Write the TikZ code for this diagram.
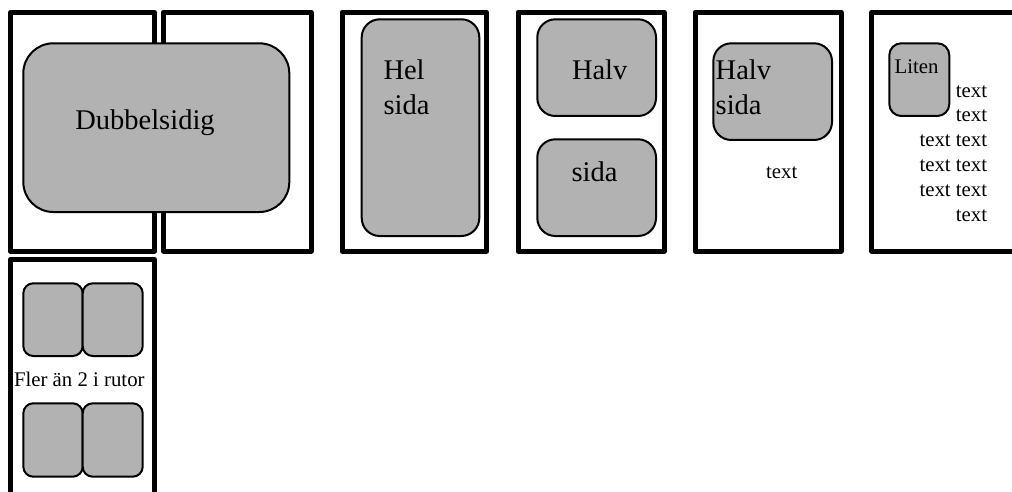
\documentclass[tikz,border=0pt]{standalone}
\usepackage{fontspec}
\setmainfont{Liberation Serif}
\tikzset{
  page/.style={draw, line width=5pt, inner sep=0pt, outer sep=0pt, line join=round},
  panel/.style={draw, line width=2pt, fill=black!30, inner sep=0pt, outer sep=0pt},
  big/.style={inner sep=0pt, font=\fontsize{28.5}{34}\selectfont},
  small/.style={inner sep=0pt, font=\fontsize{20.8}{25}\selectfont},
}
\begin{document}
\begin{tikzpicture}[x=1pt,y=-1pt]
\useasboundingbox (0,0) rectangle (1012,492);
\clip (0,0) rectangle (1012,492);

% page frames
\node[page, minimum width=144.2pt, minimum height=238.8pt] (p1) at (82.4,131.6) {};
\node[page, minimum width=147.6pt, minimum height=238.8pt] (p2) at (237.2,131.6) {};
\node[page, minimum width=144.7pt, minimum height=238.8pt] (p3) at (414.35,131.6) {};
\node[page, minimum width=146pt, minimum height=238.8pt] (p4) at (591,131.6) {};
\node[page, minimum width=146pt, minimum height=238.8pt] (p5) at (768,131.6) {};
\node[page, minimum width=146.3pt, minimum height=238.8pt] (p6) at (944.85,131.6) {};
\node[page, minimum width=144.2pt, minimum height=240pt] (p7) at (82.4,379.5) {};

% double-page spread
\node[panel, rounded corners=30pt, minimum width=266pt, minimum height=168.7pt] (dub) at (156.3,127.65) {};
\node[big, anchor=base] (dubt) at (145,129.3) {Dubbelsidig};

% full page
\node[panel, rounded corners=18pt, minimum width=117.6pt, minimum height=216.7pt] (hel) at (420.5,127.65) {};
\node[big, anchor=base west] (helt1) at (383.3,80) {Hel};
\node[big, anchor=base west] (helt2) at (383.3,115) {sida};

% two half pages
\node[panel, rounded corners=18pt, minimum width=118.7pt, minimum height=96.7pt] (halva) at (596.65,67.65) {};
\node[panel, rounded corners=18pt, minimum width=118.7pt, minimum height=96.7pt] (halvb) at (596.65,187.65) {};
\node[big, anchor=base] (halvat) at (599.7,80) {Halv};
\node[big, anchor=base] (halvbt) at (594.5,181.7) {sida};

% half page with text
\node[panel, rounded corners=18pt, minimum width=118.7pt, minimum height=96.7pt] (hs) at (772.65,91.65) {};
\node[big, anchor=base west] (hst1) at (715.5,80) {Halv};
\node[big, anchor=base west] (hst2) at (715.5,115) {sida};
\node[small, anchor=base] (hstext) at (781.7,178.3) {text};

% small picture with text
\node[panel, rounded corners=12pt, minimum width=60pt, minimum height=72.7pt] (liten) at (919.3,79.65) {};
\node[small, anchor=base west] (litent) at (894.5,73.3) {Liten};
\node[small, anchor=base east] (l1) at (987.3,97.3) {text};
\node[small, anchor=base east] (l2) at (987.3,122) {text};
\node[small, anchor=base east] (l3) at (987.3,146.7) {text text};
\node[small, anchor=base east] (l4) at (987.3,171.5) {text text};
\node[small, anchor=base east] (l5) at (987.3,196.3) {text text};
\node[small, anchor=base east] (l6) at (987.3,221.3) {text};

% grid of small pictures
\node[panel, rounded corners=10pt, minimum width=59.4pt, minimum height=72.7pt] (g1) at (53,319.65) {};
\node[panel, rounded corners=10pt, minimum width=60pt, minimum height=72.7pt] (g2) at (112.7,319.65) {};
\node[panel, rounded corners=10pt, minimum width=59.4pt, minimum height=73.4pt] (g3) at (53,440) {};
\node[panel, rounded corners=10pt, minimum width=60pt, minimum height=73.4pt] (g4) at (112.7,440) {};
\node[small, anchor=base] (gt) at (79.3,386.7) {Fler än 2 i rutor};
\end{tikzpicture}
\end{document}
